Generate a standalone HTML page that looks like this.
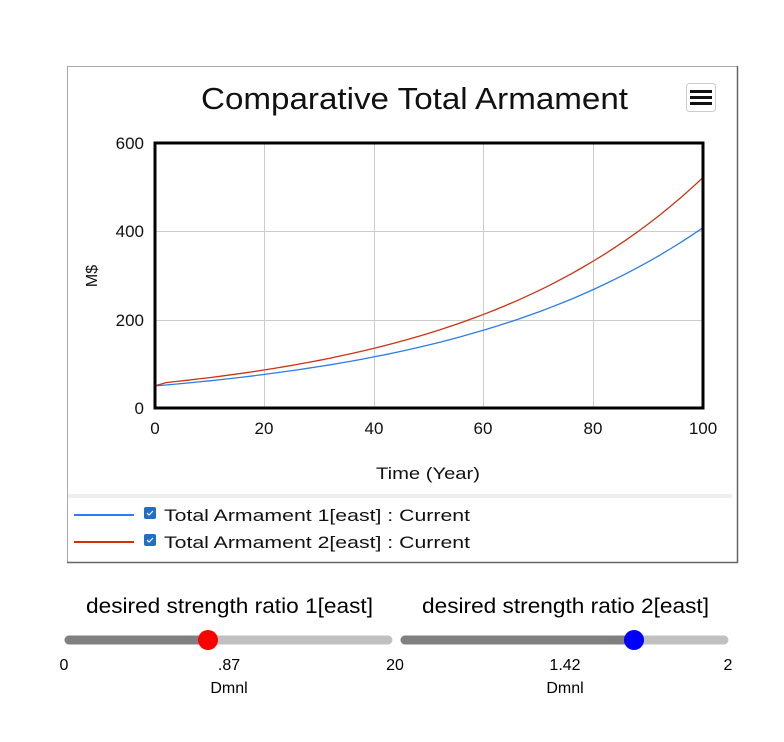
<!DOCTYPE html>
<html><head><style>
body{margin:0;background:#fff;width:784px;height:742px;overflow:hidden;font-family:"Liberation Sans",sans-serif}
</style></head><body>
<svg width="784" height="742" xmlns="http://www.w3.org/2000/svg" style="position:absolute;left:0;top:0">
<rect x="67.5" y="66.5" width="670" height="496" fill="#fff" stroke="#aaa"/>
<line x1="737.5" y1="66" x2="737.5" y2="563" stroke="#666" stroke-width="1.5"/>
<line x1="67" y1="562.5" x2="738" y2="562.5" stroke="#666" stroke-width="1.5"/>
<text x="201" y="109" font-size="31" textLength="427" lengthAdjust="spacingAndGlyphs" fill="#111">Comparative Total Armament</text>
<rect x="686.5" y="83.5" width="29" height="28" rx="3" fill="#fff" stroke="#ccc"/>
<rect x="690" y="90" width="22" height="3" fill="#111"/><rect x="690" y="96" width="22" height="3" fill="#111"/><rect x="690" y="102" width="22" height="3" fill="#111"/>
<g stroke="#ccc" stroke-width="1">
<line x1="264.5" y1="143" x2="264.5" y2="408"/><line x1="374.5" y1="143" x2="374.5" y2="408"/><line x1="483.5" y1="143" x2="483.5" y2="408"/><line x1="593.5" y1="143" x2="593.5" y2="408"/>
<line x1="155" y1="231.5" x2="703" y2="231.5"/><line x1="155" y1="320.5" x2="703" y2="320.5"/>
</g>
<polyline id="b" fill="none" stroke="#2b7de9" stroke-width="1.3" points=""/>
<polyline id="r" fill="none" stroke="#cc3311" stroke-width="1.3" points=""/>
<rect x="155" y="143" width="548" height="265" fill="none" stroke="#000" stroke-width="3"/>
<g font-size="17" fill="#111">
<text x="144" y="149" text-anchor="end">600</text><text x="144" y="237" text-anchor="end">400</text><text x="144" y="326" text-anchor="end">200</text><text x="144" y="414" text-anchor="end">0</text>
<text x="155" y="434" text-anchor="middle">0</text><text x="264" y="434" text-anchor="middle">20</text><text x="374" y="434" text-anchor="middle">40</text><text x="483" y="434" text-anchor="middle">60</text><text x="593" y="434" text-anchor="middle">80</text><text x="703" y="434" text-anchor="middle">100</text>
<text x="376" y="479" textLength="104" lengthAdjust="spacingAndGlyphs">Time (Year)</text>
<text transform="translate(97,276) rotate(-90)" text-anchor="middle" font-size="16">M$</text>
<rect x="68" y="494" width="664" height="4" fill="#eee" stroke="none"/>
<line x1="74" y1="515" x2="134" y2="515" stroke="#2b7de9" stroke-width="2"/>
<line x1="74" y1="542" x2="134" y2="542" stroke="#cc3311" stroke-width="2"/>
<rect x="144" y="507" width="12" height="12" rx="2" fill="#1f6fc6"/><rect x="144" y="534" width="12" height="12" rx="2" fill="#1f6fc6"/>
<path d="M147 513 l2 2 l4 -4 M147 540 l2 2 l4 -4" stroke="#fff" stroke-width="1.2" fill="none"/>
<text x="164" y="521" textLength="306" lengthAdjust="spacingAndGlyphs">Total Armament 1[east] : Current</text>
<text x="164" y="548" textLength="306" lengthAdjust="spacingAndGlyphs">Total Armament 2[east] : Current</text>
</g>
<g fill="#000">
<text x="86" y="613" font-size="21" textLength="287" lengthAdjust="spacingAndGlyphs">desired strength ratio 1[east]</text>
<text x="422" y="613" font-size="21" textLength="287" lengthAdjust="spacingAndGlyphs">desired strength ratio 2[east]</text>
<line x1="69" y1="640" x2="388" y2="640" stroke="#c0c0c0" stroke-width="9" stroke-linecap="round"/>
<line x1="69" y1="640" x2="208" y2="640" stroke="#808080" stroke-width="9" stroke-linecap="round"/>
<circle cx="208" cy="640" r="10" fill="#f00"/>
<line x1="405" y1="640" x2="724" y2="640" stroke="#c0c0c0" stroke-width="9" stroke-linecap="round"/>
<line x1="405" y1="640" x2="634" y2="640" stroke="#808080" stroke-width="9" stroke-linecap="round"/>
<circle cx="634" cy="640" r="10" fill="#00f"/>
<g font-size="16">
<text x="64" y="670" text-anchor="middle">0</text><text x="229" y="670" text-anchor="middle">.87</text><text x="395" y="670" text-anchor="middle">20</text>
<text x="565" y="670" text-anchor="middle">1.42</text><text x="728" y="670" text-anchor="middle">2</text>
<text x="229" y="693" text-anchor="middle">Dmnl</text><text x="565" y="693" text-anchor="middle">Dmnl</text>
</g></g>
</svg>
<script>
function pts(a,k,start){var s=[];for(var t=0;t<=100;t+=2){var v=a*Math.exp(k*t);if(t==0)v=start;s.push((155+t*5.48).toFixed(1)+","+(408-v*265/600).toFixed(1));}return s.join(" ");}
document.getElementById("b").setAttribute("points",pts(50,0.021,50));
document.getElementById("r").setAttribute("points",pts(55,0.0225,50));
</script>
</body></html>
